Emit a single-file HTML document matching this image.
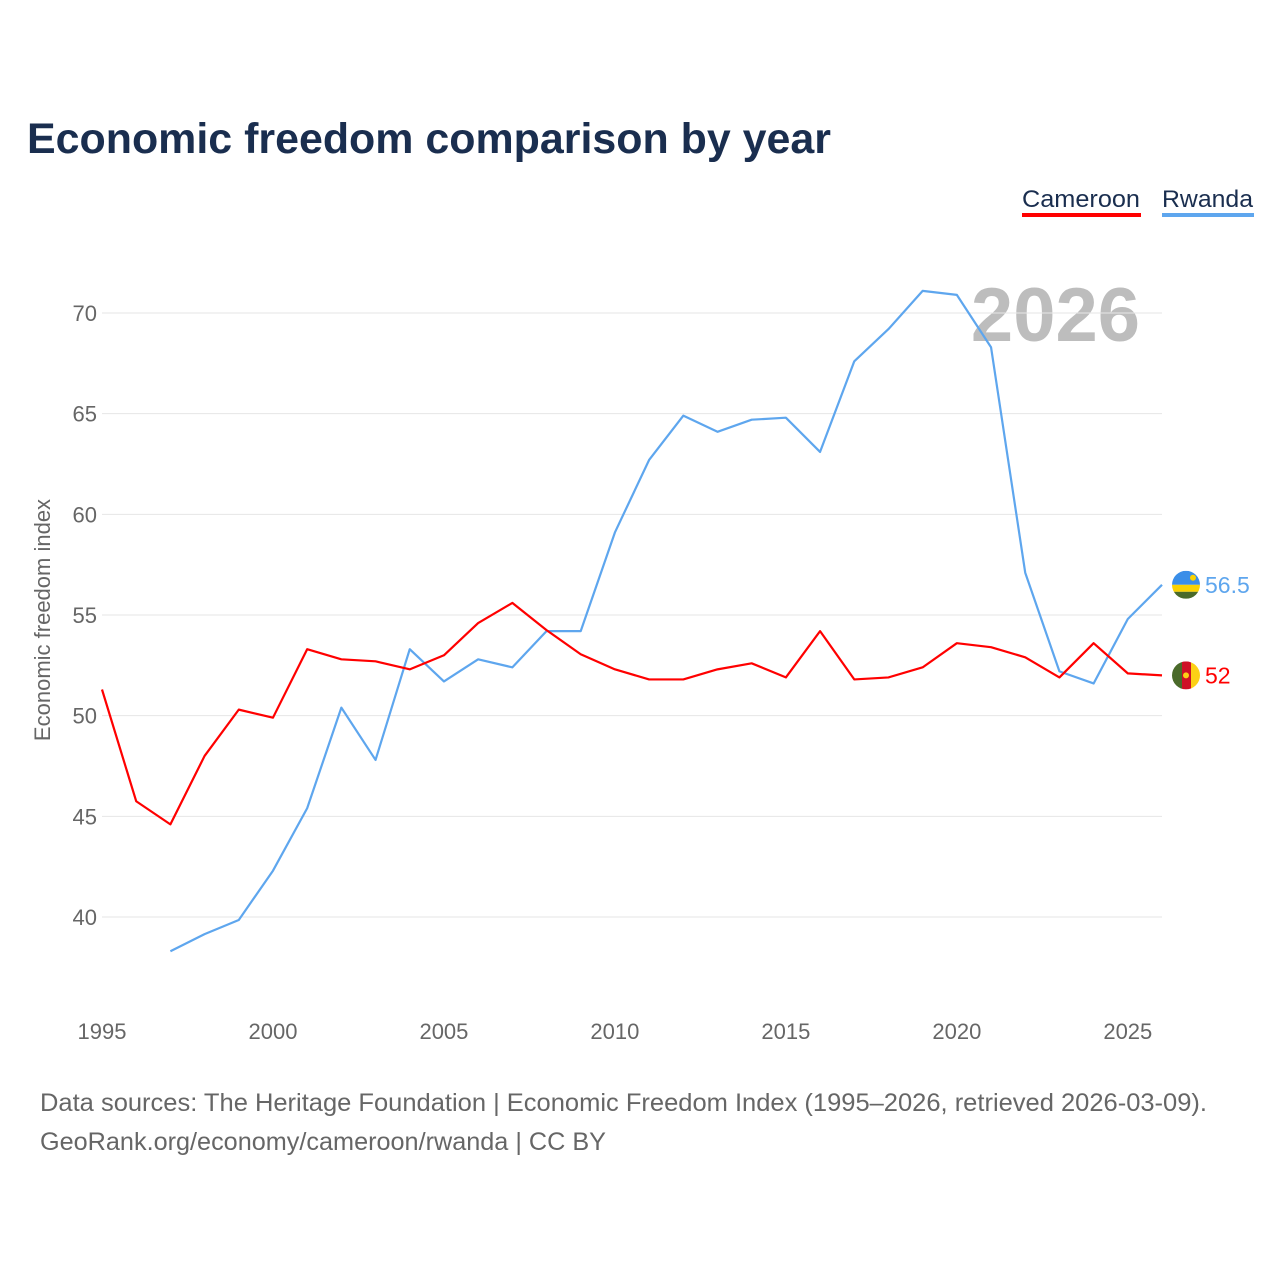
<!DOCTYPE html>
<html><head><meta charset="utf-8"><style>
body{margin:0;background:#fff;width:1280px;height:1280px;overflow:hidden;font-family:"Liberation Sans",sans-serif}
svg text{font-family:"Liberation Sans",sans-serif}
</style></head><body>
<svg id="chart" width="1280" height="1280">
<text x="27" y="153" font-size="43" font-weight="bold" fill="#1a2e4f" textLength="804" lengthAdjust="spacingAndGlyphs">Economic freedom comparison by year</text>
<g><text x="1022" y="207" font-size="24" fill="#1a2e4f" textLength="118" lengthAdjust="spacingAndGlyphs">Cameroon</text><rect x="1022" y="213" width="119" height="4" fill="#f00"/></g>
<g><text x="1162" y="207" font-size="24" fill="#1a2e4f" textLength="91" lengthAdjust="spacingAndGlyphs">Rwanda</text><rect x="1162" y="213" width="92" height="4" fill="#5ea6ee"/></g>
<text x="1140" y="341" font-size="76" font-weight="bold" fill="#bdbdbd" text-anchor="end">2026</text>
<g id="grid"></g><g id="xt"></g><g id="series"></g>
<text transform="translate(50,620) rotate(-90)" font-size="22" fill="#666" text-anchor="middle">Economic freedom index</text>
<text x="40" y="1111" font-size="25" fill="#666" textLength="1167" lengthAdjust="spacingAndGlyphs">Data sources: The Heritage Foundation | Economic Freedom Index (1995–2026, retrieved 2026-03-09).</text>
<text x="40" y="1150" font-size="25" fill="#666" textLength="566" lengthAdjust="spacingAndGlyphs">GeoRank.org/economy/cameroon/rwanda | CC BY</text>
</svg>
<script>
const yTicks=[40,45,50,55,60,65,70];
const xTicks=[1995,2000,2005,2010,2015,2020,2025];
const camYears=[1995,1996,1997,1998,1999,2000,2001,2002,2003,2004,2005,2006,2007,2008,2009,2010,2011,2012,2013,2014,2015,2016,2017,2018,2019,2020,2021,2022,2023,2024,2025,2026];
const camValues=[51.3,45.75,44.6,48.0,50.3,49.9,53.3,52.8,52.7,52.3,53.0,54.6,55.6,54.25,53.05,52.3,51.8,51.8,52.3,52.6,51.9,54.2,51.8,51.9,52.4,53.6,53.4,52.9,51.9,53.6,52.1,52.0];
const rwaYears=[1997,1998,1999,2000,2001,2002,2003,2004,2005,2006,2007,2008,2009,2010,2011,2012,2013,2014,2015,2016,2017,2018,2019,2020,2021,2022,2023,2024,2025,2026];
const rwaValues=[38.3,39.15,39.85,42.3,45.4,50.4,47.8,53.3,51.7,52.8,52.4,54.2,54.2,59.1,62.7,64.9,64.1,64.7,64.8,63.1,67.6,69.2,71.1,70.9,68.3,57.1,52.2,51.6,54.8,56.5];
const x=v=>102+(v-1995)*(1162-102)/31;
const y=v=>313+(70-v)*(917-313)/30;
const NS="http://www.w3.org/2000/svg";
function mk(t,a,p){const e=document.createElementNS(NS,t);for(const k in a)e.setAttribute(k,a[k]);p.appendChild(e);return e;}
const grid=document.getElementById('grid');
yTicks.forEach(v=>{
 const l=mk('line',{x1:102,x2:1162,y1:y(v),y2:y(v),stroke:'#e6e6e6','stroke-width':1},grid);
 
 
 const t=mk('text',{x:97,y:y(v)+8,'font-size':22,fill:'#666','text-anchor':'end'},grid);t.textContent=v;
 
 
});
const xt=document.getElementById('xt');
xTicks.forEach(v=>{
 const t=mk('text',{x:x(v),y:1039,'font-size':22,fill:'#666','text-anchor':'middle'},xt);t.textContent=v;
 
 
});
const s=document.getElementById('series');
function line(xs,vs,c,name){
 const p=mk('polyline',{points:xs.map((yr,i)=>x(yr)+','+y(vs[i])).join(' '),fill:'none',stroke:c,'stroke-width':2.2,'stroke-linejoin':'round'},s);
 
 
}
line(rwaYears,rwaValues,'#5ea6ee','rwanda-line');
line(camYears,camValues,'#f00','cameroon-line');
const rv=rwaValues[rwaValues.length-1],cv=camValues[camValues.length-1];
const ex=1186;
const rg=mk('g',{},s);


const rc=mk('clipPath',{id:'rc'},rg);mk('circle',{cx:ex,cy:y(rv),r:14},rc);
const rgg=mk('g',{'clip-path':'url(#rc)'},rg);
mk('rect',{x:ex-14,y:y(rv)-14,width:28,height:14,fill:'#3a8ee8'},rgg);
mk('rect',{x:ex-14,y:y(rv),width:28,height:7,fill:'#fad201'},rgg);
mk('rect',{x:ex-14,y:y(rv)+7,width:28,height:7,fill:'#4a6a2a'},rgg);
mk('circle',{cx:ex+7,cy:y(rv)-7,r:3,fill:'#fad201'},rgg);
const cg=mk('g',{},s);


const cc=mk('clipPath',{id:'cc'},cg);mk('circle',{cx:ex,cy:y(cv),r:14},cc);
const cgg=mk('g',{'clip-path':'url(#cc)'},cg);
mk('rect',{x:ex-14,y:y(cv)-14,width:10,height:28,fill:'#4a6a2a'},cgg);
mk('rect',{x:ex-4,y:y(cv)-14,width:9,height:28,fill:'#ce1126'},cgg);
mk('rect',{x:ex+5,y:y(cv)-14,width:10,height:28,fill:'#fcd116'},cgg);
mk('circle',{cx:ex,cy:y(cv),r:3,fill:'#fcd116'},cgg);
const rl=mk('text',{x:1205,y:y(rv)+8,'font-size':23,fill:'#5ea6ee'},s);rl.textContent=rv;


const cl=mk('text',{x:1205,y:y(cv)+8,'font-size':23,fill:'#f00'},s);cl.textContent=cv;


</script>
</body></html>
